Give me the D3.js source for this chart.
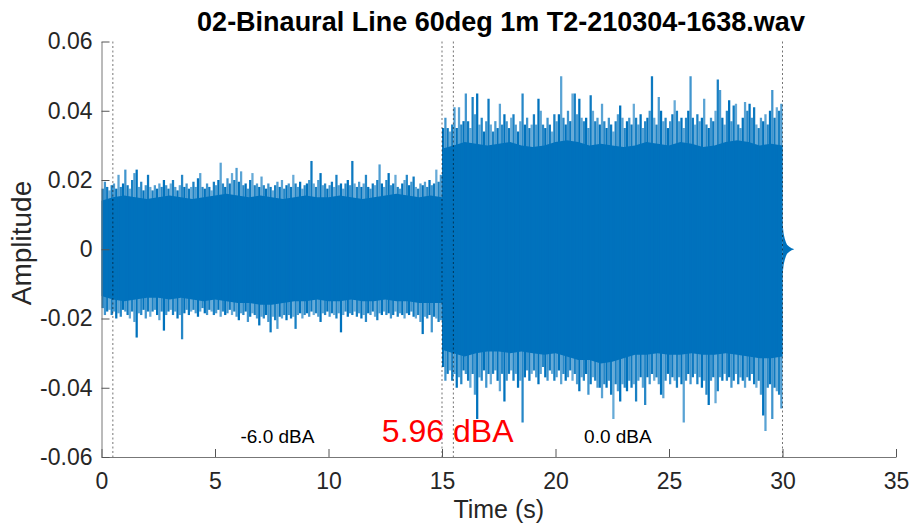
<!DOCTYPE html>
<html><head><meta charset="utf-8">
<script src="https://cdn.jsdelivr.net/npm/d3@7/dist/d3.min.js"></script>
<style>
body{margin:0;background:#fff}
svg{display:block}
text{font-family:"Liberation Sans",Arial,Helvetica,sans-serif}
</style>
</head><body>
<svg id="chart" width="911" height="525"></svg>
<script>
// ---------- data (amplitudes in units of 0.001) ----------
const titleText = "02-Binaural Line 60deg 1m T2-210304-1638.wav";
const xTicks = [0, 5, 10, 15, 20, 25, 30, 35];
const yTicks = [-0.06, -0.04, -0.02, 0, 0.02, 0.04, 0.06];
const yTickLabels = ["-0.06", "-0.04", "-0.02", "0", "0.02", "0.04", "0.06"];
const markerTimes = [0.5, 15, 15.5, 30];
const levelLabels = [
  {t: 7.75, v: -0.056, text: "-6.0 dBA"},
  {t: 22.75, v: -0.056, text: "0.0 dBA"}
];
const diffLabel = {t: 15.25, v: -0.0558, text: "5.96 dBA"};

const milli = 0.001;
const sampleStep = 0.1;   // s between peak samples
const coreStep = 0.5;     // s between core-band samples
const seg1Start = 0, seg2Start = 15;

// segment 1 (0-15 s, -6 dBA): positive peaks
const seg1Upper = [17.5,19.5,18,17,18.5,19,17.5,21.5,18,19, 23,18.5,17.5,20,22,23,18,19.5,17,18.5,
 21.5,18,17,18.5,17.5,19,18,20,18.5,17.5, 19,20,18,17,18.5,21.5,18,19,17.5,18,
 19.5,18,20.5,22,18,17.5,19,18,17,19.5, 18.5,20,25,19,18,20.5,19,22,20,23.5,
 19.5,22.5,18.5,19,17.5,20,22,18.5,19,18, 21,18.5,17.5,19,18,17,18.5,19.5,18,20,
 17.5,18.5,19,18,21.5,19,18,19.5,17.5,18.5, 19,20,25.5,19,18,20,22,18.5,19,17.5,
 18.5,19.5,18,21.5,18.5,19,17.5,19,20,18.5, 25.5,19,18,19.5,18,19,21.5,18,17.5,19,
 18.5,20,24.5,19,18,20,22,18.5,19,21.5, 18,17.5,19,20,21.5,18.5,19.5,21,18,17.5,
 19,18.5,19.5,18,20,18.5,19,23,19.5,21.5];
// segment 1: negative peaks (magnitude)
const seg1Lower = [17,19,18,17.5,19,18,20,18.5,19.5,17.5, 18,19,20,18,21,25.5,18.5,19,17.5,20,
 18,19.5,18,17.5,19,20.5,18,23.5,19,18, 17.5,19,18,20,19,26,18.5,17.5,19,18,
 17.5,18.5,19.5,18,17,18.5,19,17.5,18,19, 18.5,17.5,19.5,18,19,18.5,17.5,19,18,19.5,
 20.5,18.5,19,18,21,19.5,18.5,19,20,22, 19.5,20,19,21,24,19.5,20.5,23,19.5,20,
 19,20.5,19,20,19.5,23,19,18.5,20,19, 18.5,19.5,18,19,18.5,19.5,21,18.5,19,18,
 19.5,18.5,19,20,18.5,24,19,18,19.5,18.5, 19,18,19.5,18.5,20,19,21,18.5,19,18,
 19.5,20.5,18.5,19,18,19,18.5,20,19,18, 19.5,18.5,19,20,18.5,19,18,19.5,20,19,
 21,24.5,19.5,20,19,24,19.5,20,21,20.5];
// segment 1 dense core band (every 0.5 s)
const seg1CoreHi = [14,15,15.5,15,14.5,15,15.5,15,14.5,15,15.5,16,15.5,15,15.5,15,14.5,15,15.5,15,15,15.5,15,14.5,15,15.5,16,15.5,15,15.5,15];
const seg1CoreLo = [13.5,14.5,15,14.5,14,14,14.5,14,14.5,15,14.5,15,15.5,15.5,16,16,15.5,15,15,14.5,15,15,14.5,15,15,14.5,15,15,15.5,15.5,15.5];

// segment 2 (15-30 s, 0 dBA): positive peaks
const seg2Upper = [35,38,35,34,36,41,35,41,36,37, 45,37,35,44,39,45,36,38,34,37,
 43.5,36,34,37,35,42,36,39,37,35, 38,39,36,34,37,45,36,38,35,36,
 39,36,43.5,40,36,35,38,36,34,39, 37,39,50,38,36,40,37,45,45,39,
 43.5,38,37,38,35,44.5,40,37,38,36, 42,37,35,38,36,34,37,39,41.5,38,
 35,37,38,36,42,38,36,39,35,37, 38,40,50,38,36,44,40,37,38,35,
 37,39,43,40,37,38,35,38,40,50, 38,36,39,37,38,43.5,36,35,38,37,
 40,49,46,38,36,40,43,37,41.5,42, 36,35,38,42.5,40,42,38,41,36,35,
 38,37,39,36,40,46,38,41,40,42];
// segment 2: negative peaks (magnitude)
const seg2Lower = [34,38,36,35,38,36,40,37,39,35, 36,38,40,36,42,49,37,38,35,40,
 36,39,36,35,38,41,36,44,38,36, 35,38,36,40,38,50,37,35,38,36,
 35,37,39,36,34,37,38,35,36,38, 37,35,39,36,38,37,35,38,36,39,
 41,37,38,36,42,39,37,38,40,40, 43,39,40,38,42,49,39,41,44,39,
 40,41,38,40,39,44,38,37,40,45, 37,39,36,38,37,39,42,43,38,36,
 39,37,38,40,37,39,50,38,36,39, 37,36,39,37,40,38,42,45,38,37,
 44.5,41,37,38,36,38,37,40,38,36, 39,37,38,40,37,38,36,39,40,38,
 42,48,52.5,40,39,49,40,41,42,46];
// segment 2 dense core band (every 0.5 s)
const seg2CoreHi = [29,30,31,30.5,30,30.5,31,30,29.5,30,31,31.5,31,30,30.5,30,29.5,30,31,30.5,30,31,30.5,29.5,30,31,31.5,31,30,30.5,30];
const seg2CoreLo = [29,30,31,30,29.5,29.5,30,29.5,30,30.5,30,31,32,32,33,32.5,31.5,30.5,30.5,30,30.5,30.5,30,30.5,30.5,30,30.5,31,31.5,31.5,31];

// decay tail after 30 s
const tailT = [30.0, 30.05, 30.1, 30.15, 30.2, 30.3, 30.4, 30.5];
const tailAmp = [7.5, 4.5, 3, 2, 1.3, 0.7, 0.3, 0.1];

// ---------- drawing ----------
const plotLeft = 101.5, plotRight = 896, plotTop = 41.5, plotBottom = 457;
const svg = d3.select("#chart");
const x = d3.scaleLinear().domain([0, 35]).range([plotLeft, plotRight]);
const y = d3.scaleLinear().domain([-0.06, 0.06]).range([plotBottom, plotTop]);
const blue = "#0072BD";

const sig = svg.append("g");
const opac = [1, 0.75, 0.95, 0.6, 0.9, 0.7, 1, 0.65, 0.85];

function drawSegment(start, coreHi, coreLo, up, lo) {
  const core = coreHi.map((h, k) => ({t: start + k * coreStep, h, l: coreLo[k]}));
  sig.append("path").datum(core)
    .attr("fill", blue)
    .attr("d", d3.area().x(d => x(d.t)).y0(d => y(-d.l * milli)).y1(d => y(d.h * milli)));
  const w = x(sampleStep) - x(0);
  sig.append("g").selectAll("line")
    .data(up.map((u, i) => ({t: start + (i + 0.5) * sampleStep, u, l: lo[i], i})))
    .join("line")
    .attr("x1", d => x(d.t)).attr("x2", d => x(d.t))
    .attr("y1", d => y(d.u * milli)).attr("y2", d => y(-d.l * milli))
    .attr("stroke", blue).attr("stroke-width", w)
    .attr("stroke-opacity", d => opac[d.i % opac.length]);
}
drawSegment(seg1Start, seg1CoreHi, seg1CoreLo, seg1Upper, seg1Lower);
drawSegment(seg2Start, seg2CoreHi, seg2CoreLo, seg2Upper, seg2Lower);

const tail = tailT.map((t, k) => ({t, a: tailAmp[k]}));
sig.append("path").datum(tail).attr("fill", blue)
  .attr("d", d3.area().x(d => x(d.t)).y0(d => y(-d.a * milli)).y1(d => y(d.a * milli)));

// marker lines
svg.append("g").selectAll("line").data(markerTimes).join("line")
  .attr("x1", d => x(d)).attr("x2", d => x(d))
  .attr("y1", plotTop).attr("y2", plotBottom)
  .attr("stroke", "#000").attr("stroke-opacity", 0.55)
  .attr("stroke-width", 1).attr("stroke-dasharray", "2,2.5");

// axes
const xAxis = d3.axisBottom(x).tickValues(xTicks).tickFormat(d3.format("d"))
  .tickSizeInner(-8).tickSizeOuter(0).tickPadding(16);
const gx = svg.append("g").attr("transform", `translate(0,${plotBottom})`).call(xAxis);
const yAxis = d3.axisLeft(y).tickValues(yTicks).tickFormat((d, i) => yTickLabels[i])
  .tickSizeInner(-8).tickSizeOuter(0).tickPadding(9);
const gy = svg.append("g").attr("transform", `translate(${plotLeft},0)`).call(yAxis);
[gx, gy].forEach(g => {
  g.select(".domain").attr("stroke", "#777").attr("stroke-width", 1);
  g.selectAll(".tick line").attr("stroke", "#555").attr("stroke-width", 1);
  g.selectAll(".tick text").attr("fill", "#262626").style("font-size", "23px")
    .style("font-family", '"Liberation Sans",Arial,sans-serif');
});

// titles
svg.append("text").attr("x", 501).attr("y", 31).attr("text-anchor", "middle")
  .attr("font-weight", "bold").attr("font-size", 27).attr("fill", "#000").text(titleText);
svg.append("text").attr("x", (plotLeft + plotRight) / 2).attr("y", 518).attr("text-anchor", "middle")
  .attr("font-size", 25).attr("fill", "#262626").text("Time (s)");
svg.append("text").attr("transform", "translate(31,243) rotate(-90)").attr("text-anchor", "middle")
  .attr("font-size", 28).attr("fill", "#262626").text("Amplitude");

// annotations
svg.append("g").selectAll("text").data(levelLabels).join("text")
  .attr("x", d => x(d.t)).attr("y", d => y(d.v)).attr("text-anchor", "middle")
  .attr("font-size", 19).attr("fill", "#000").text(d => d.text);
svg.append("text").attr("x", x(diffLabel.t)).attr("y", y(diffLabel.v)).attr("text-anchor", "middle")
  .attr("font-size", 32).attr("fill", "#FF0000").text(diffLabel.text);
</script>
</body></html>
